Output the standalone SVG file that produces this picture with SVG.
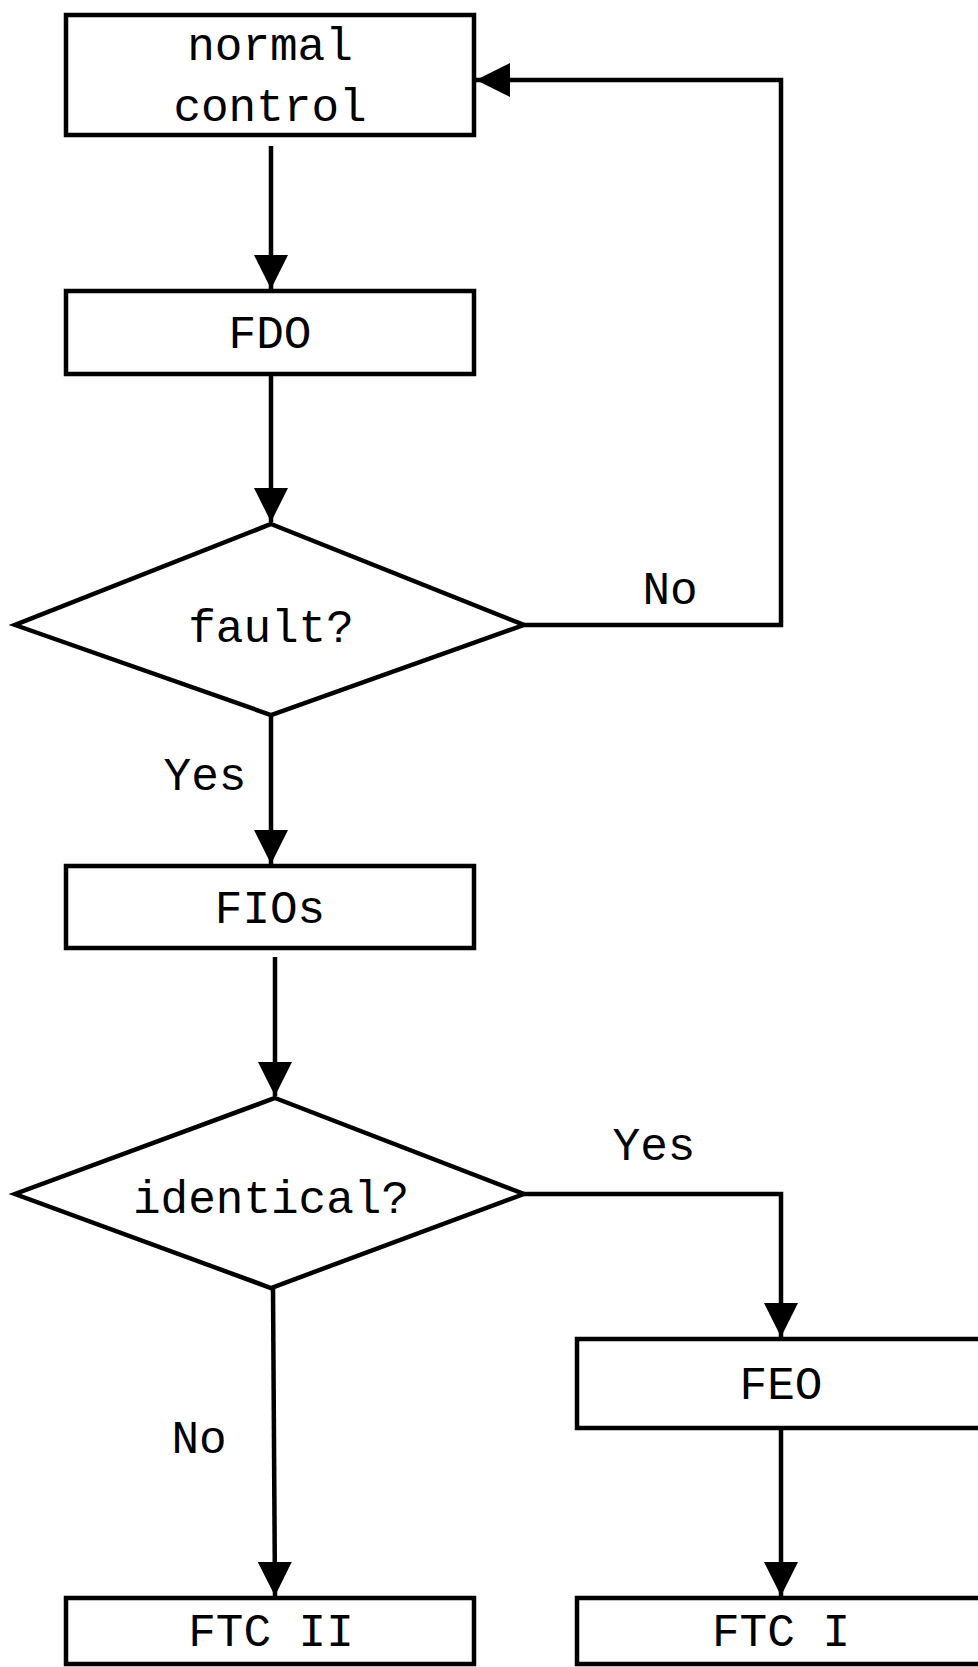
<svg xmlns="http://www.w3.org/2000/svg" width="978" height="1667" viewBox="0 0 978 1667">
<style>
.box{fill:#fff;stroke:#000;stroke-width:4.5}
.con{fill:none;stroke:#000;stroke-width:4.5}
.t{font-family:"Liberation Mono","DejaVu Sans Mono",monospace;font-size:46px;fill:#000;text-anchor:middle}
</style>
<defs>
<marker id="ah" viewBox="0 0 34 34" refX="34" refY="17" markerWidth="34" markerHeight="34" markerUnits="userSpaceOnUse" orient="auto">
<path d="M0,0 L34,17 L0,34 Z" fill="#000"/>
</marker>
</defs>
<g id="connectors">
<path class="con" d="M271,146 L271,289" marker-end="url(#ah)"/>
<path class="con" d="M271,374 L271,522" marker-end="url(#ah)"/>
<path class="con" d="M524,625 L781,625 L781,80 L476,80" marker-end="url(#ah)"/>
<path class="con" d="M271,715 L271,864" marker-end="url(#ah)"/>
<path class="con" d="M275,957 L275,1096" marker-end="url(#ah)"/>
<path class="con" d="M524,1194 L781,1194 L781,1337" marker-end="url(#ah)"/>
<path class="con" d="M781,1428 L781,1596" marker-end="url(#ah)"/>
<path class="con" d="M273,1288 L275,1596" marker-end="url(#ah)"/>
<text class="t" x="670" y="604">No</text>
<text class="t" x="205" y="790">Yes</text>
<text class="t" x="654" y="1160">Yes</text>
<text class="t" x="199" y="1453">No</text>
</g>
<g id="n_normal">
<rect class="box" x="66" y="15" width="408" height="120"/>
<text class="t" x="270" y="60">normal</text>
<text class="t" x="270" y="121">control</text>
</g>
<g id="n_fdo">
<rect class="box" x="66" y="291" width="408" height="83"/>
<text class="t" x="270" y="348">FDO</text>
</g>
<g id="n_fault">
<polygon class="box" points="271,524 524,625 271,715 15,625"/>
<text class="t" x="271" y="642">fault?</text>
</g>
<g id="n_fios">
<rect class="box" x="66" y="866" width="408" height="82"/>
<text class="t" x="270" y="923">FIOs</text>
</g>
<g id="n_identical">
<polygon class="box" points="275,1098 524,1194 271,1288 15,1194"/>
<text class="t" x="271" y="1213">identical?</text>
</g>
<g id="n_feo">
<rect class="box" x="577" y="1339" width="408" height="89"/>
<text class="t" x="781" y="1399">FEO</text>
</g>
<g id="n_ftc2">
<rect class="box" x="66" y="1598" width="408" height="66"/>
<text class="t" x="271" y="1646">FTC II</text>
</g>
<g id="n_ftc1">
<rect class="box" x="577" y="1598" width="408" height="66"/>
<text class="t" x="781" y="1646">FTC I</text>
</g>
</svg>
